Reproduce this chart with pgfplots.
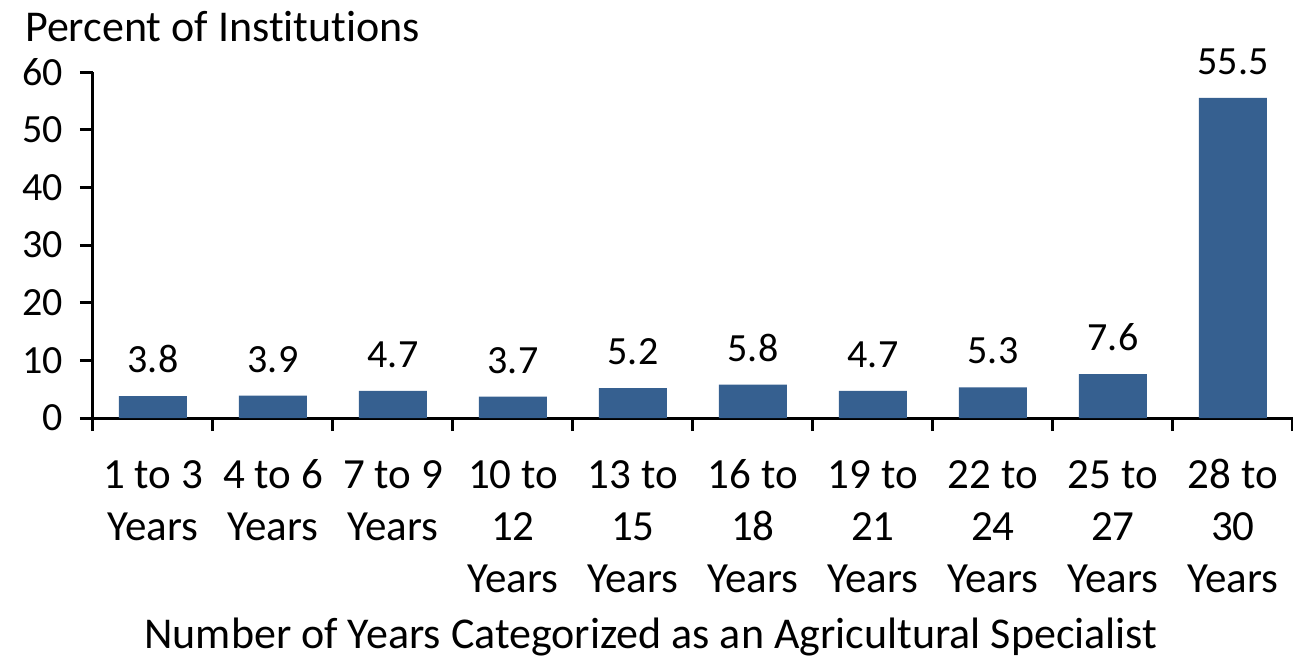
\documentclass[border=0pt]{standalone}
\usepackage{pgfplots}
\pgfplotsset{compat=1.18}
\usepackage{fontspec}
\setmainfont[Ligatures={NoCommon}]{Carlito}
\definecolor{barblue}{RGB}{54,96,144}
\newcommand{\fs}{\rule{0pt}{32pt}}
\begin{document}
\fontsize{44}{52}\selectfont
\begin{tikzpicture}
\begin{axis}[
  at={(0pt,0pt)}, anchor=south west,
  scale only axis, width=1200pt, height=346pt,
  xmin=-0.5, xmax=9.5, ymin=0, ymax=60,
  axis x line=bottom, axis y line=left,
  axis line style={line width=3pt, -},
  every tick/.style={line width=3pt, black},
  tick align=outside,
  xtick={0,...,9},
  xticklabels={{\fs 1 to 3\\Years},{\fs 4 to 6\\Years},{\fs 7 to 9\\Years},{\fs 10 to\\12\\Years},{\fs 13 to\\15\\Years},{\fs 16 to\\18\\Years},{\fs 19 to\\21\\Years},{\fs 22 to\\24\\Years},{\fs 25 to\\27\\Years},{\fs 28 to\\30\\Years}},
  major x tick style={draw=none},
  minor xtick={-0.5,0.5,...,9.5},
  minor tick length=13pt,
  ytick={0,10,...,60},
  major tick length=13pt,
  xticklabel style={align=center, anchor=north, inner sep=0pt, yshift=-25pt, font=\fontsize{43}{52}\selectfont},
  yticklabel style={anchor=east, inner sep=0pt, xshift=-17pt, font=\fontsize{40}{48}\selectfont},
  /pgf/number format/assume math mode=true,
  ybar, bar width=68pt, bar shift=0pt,
  nodes near coords={\pgfmathprintnumber[fixed,fixed zerofill,precision=1,assume math mode=true]{\pgfplotspointmeta}},
  every node near coord/.style={anchor=south, inner sep=0pt, yshift=23pt, font=\fontsize{40}{48}\selectfont, black},
  clip=false,
]
\addplot[fill=barblue, draw=none] coordinates {
(0,3.8) (1,3.9) (2,4.7) (3,3.7) (4,5.2) (5,5.8) (6,4.7) (7,5.3) (8,7.6) (9,55.5)};
\end{axis}
\node[anchor=base west, inner sep=0pt] at (-68pt,376pt) {Percent of Institutions};
\node[anchor=base, inner sep=0pt] at (558pt,-230pt) {Number of Years Categorized as an Agricultural Specialist};
\pgfresetboundingbox
\path (-93pt,-239pt) rectangle (1200pt,418pt);
\end{tikzpicture}
\end{document}
